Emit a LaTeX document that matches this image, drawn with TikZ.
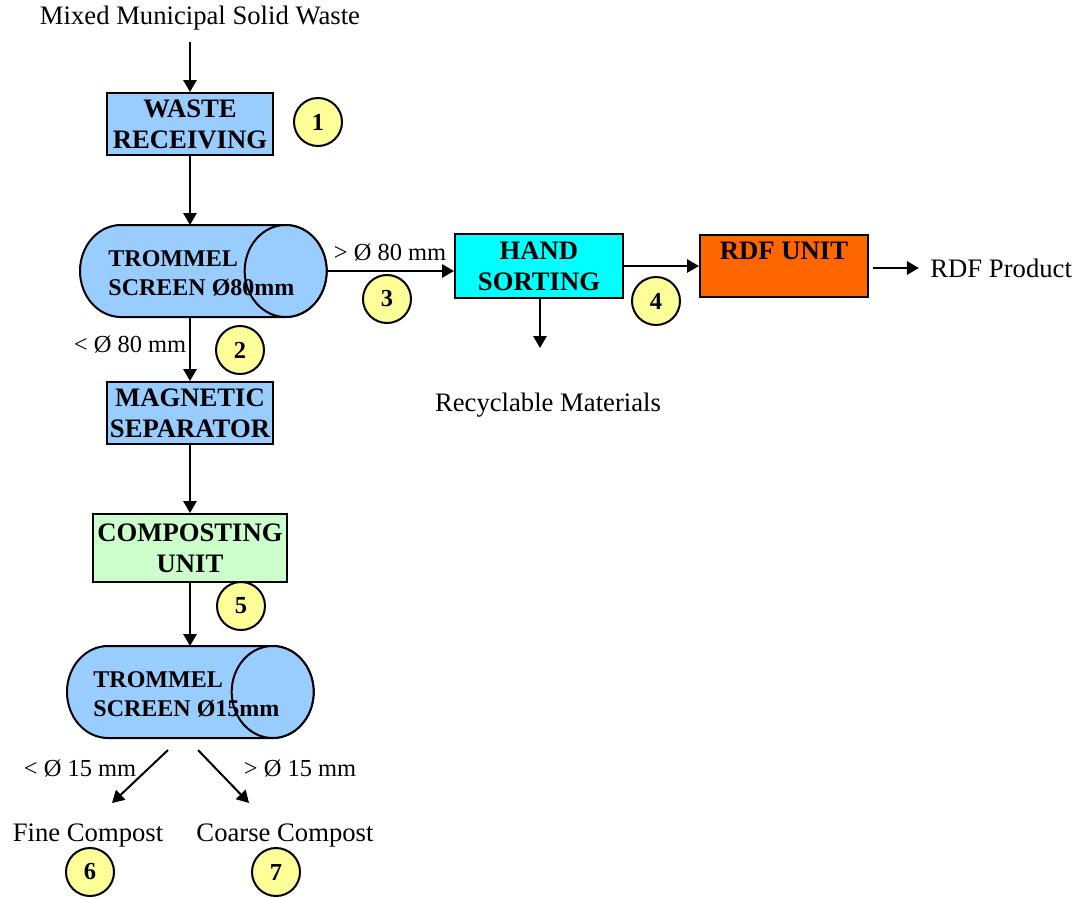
\documentclass[tikz,border=0pt]{standalone}
\usepackage{fontspec}
\setmainfont{Liberation Serif}
\usetikzlibrary{arrows.meta}
\definecolor{boxblue}{HTML}{99CCFF}
\definecolor{sortcyan}{HTML}{00FFFF}
\definecolor{rdforange}{HTML}{FF6600}
\definecolor{compgreen}{HTML}{CCFFCC}
\definecolor{numyellow}{HTML}{FFFF99}

\tikzset{
  unitbox/.style={draw,line width=0.9pt,minimum width=74.7pt,minimum height=27.9pt,
    inner sep=0pt,align=center,font=\bfseries\fontsize{12}{14}\selectfont},
  trommel/.style={rectangle,minimum width=111pt,minimum height=41.4pt,inner sep=0pt,
    outer sep=0pt,anchor=west},
  drumline/.style={draw,line width=0.9pt,fill=boxblue},
  trommeltext/.style={align=left,inner sep=0pt,anchor=west,
    font=\bfseries\fontsize{10.8}{13}\selectfont},
  numcirc/.style={circle,draw,line width=0.9pt,fill=numyellow,minimum size=21.6pt,
    inner sep=0pt,font=\bfseries\fontsize{11}{13}\selectfont},
  flow/.style={-{Triangle[length=5.4pt,width=6pt]},line width=0.9pt},
  plain/.style={font=\fontsize{12}{14}\selectfont},
  sieve/.style={font=\fontsize{11}{13}\selectfont}
}

\begin{document}
\begin{tikzpicture}[x=0.45pt,y=-0.45pt]
  \useasboundingbox (0,0) rectangle (1076,898);

  % main line, top to bottom
  \node[plain] (mixed) at (200,18) {Mixed Municipal Solid Waste};
  \node[unitbox,fill=boxblue] (wrecv) at (190,124) {WASTE\\RECEIVING};
  \node[trommel] (trom1) at (80,271) {};
  \node[unitbox,fill=boxblue] (magsep) at (190,413) {MAGNETIC\\SEPARATOR};
  \node[unitbox,fill=compgreen,minimum width=87.3pt,minimum height=30.6pt] (compost) at (190,548) {COMPOSTING\\UNIT};
  \node[trommel] (trom2) at (67,692) {};

  % drums of the two screens
  \foreach \t in {trom1,trom2} {
    \draw[drumline] ([xshift=18.45pt]\t.north west) -- ([xshift=-18.45pt]\t.north east)
      arc[start angle=90,end angle=-90,x radius=18.45pt,y radius=20.7pt]
      -- ([xshift=18.45pt]\t.south west)
      arc[start angle=270,end angle=90,x radius=18.45pt,y radius=20.7pt] -- cycle;
    \draw[drumline] ([xshift=-18.45pt]\t.east) ellipse [x radius=18.45pt,y radius=20.7pt];
  }
  \node[trommeltext] (trom1-txt) at (108,273) {TROMMEL\\SCREEN Ø80mm};
  \node[trommeltext] (trom2-txt) at (93,694) {TROMMEL\\SCREEN Ø15mm};

  % oversize branch
  \node[unitbox,fill=sortcyan,minimum width=75.6pt,minimum height=28.8pt] (hsort) at (539,266) {HAND\\SORTING};
  \node[unitbox,fill=rdforange,minimum width=75.6pt] (rdf) at (784,266) {RDF UNIT\\\mbox{}};
  \node[plain,anchor=west,inner sep=0pt] (prod) at (930,268) {RDF Product};
  \node[plain] (recyc) at (548,405) {Recyclable Materials};
  \coordinate (recyc-in) at (540,348);

  % sieve labels
  \node[sieve] (over80) at (390,253) {> Ø 80 mm};
  \node[sieve] (under80) at (130,345) {< Ø 80 mm};
  \node[sieve] (under15) at (80,769) {< Ø 15 mm};
  \node[sieve] (over15) at (300,769) {> Ø 15 mm};

  % products of the last screen
  \node[plain] (fine) at (88,835) {Fine Compost};
  \node[plain] (coarse) at (285,835) {Coarse Compost};
  \coordinate (fine-out) at (168,750);
  \coordinate (fine-in) at (112,803);
  \coordinate (coarse-out) at (198,750);
  \coordinate (coarse-in) at (249,803);

  % step numbers
  \node[numcirc] (n1) at (318,122) {1};
  \node[numcirc] (n2) at (240,350) {2};
  \node[numcirc] (n3) at (387,299) {3};
  \node[numcirc] (n4) at (656,301) {4};
  \node[numcirc] (n5) at (241,606) {5};
  \node[numcirc] (n6) at (90,872) {6};
  \node[numcirc] (n7) at (276,872) {7};

  % connectors
  \draw[flow,shorten <=2pt] (mixed.south -| wrecv.north) -- (wrecv);
  \draw[flow] (wrecv) -- (wrecv |- trom1.north);
  \draw[flow] (trom1.south -| magsep.north) -- (magsep);
  \draw[flow] (magsep) -- (compost);
  \draw[flow] (compost) -- (compost |- trom2.north);
  \draw[flow] (trom1.east) -- (hsort.west |- trom1.east);
  \draw[flow] (hsort.east |- rdf) -- (rdf);
  \draw[flow,shorten <=2pt,shorten >=5pt] (rdf.east |- prod) -- (prod.west);
  \draw[flow] (hsort.south -| recyc-in) -- (recyc-in);
  \draw[flow] (fine-out) -- (fine-in);
  \draw[flow] (coarse-out) -- (coarse-in);
\end{tikzpicture}
\end{document}
